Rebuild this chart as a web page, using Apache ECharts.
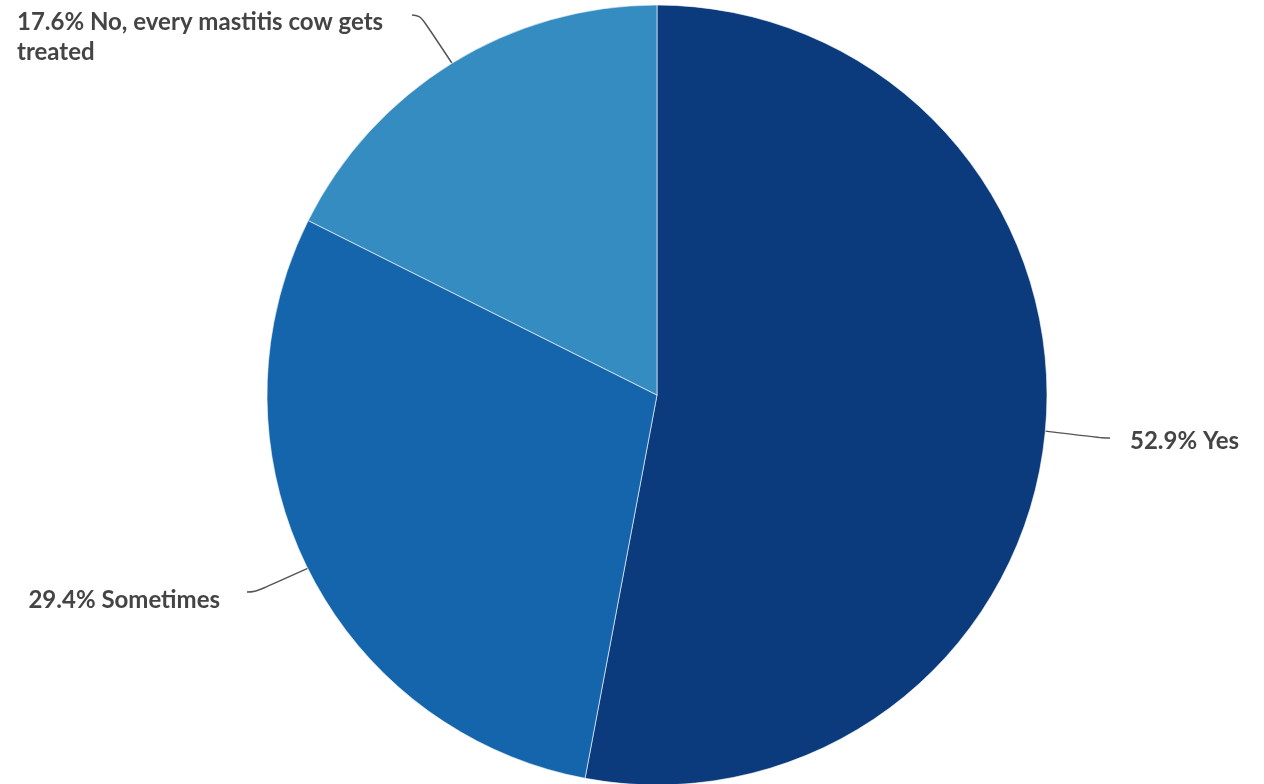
<!DOCTYPE html>
<html>
<head>
<meta charset="utf-8">
<script src="https://cdn.jsdelivr.net/npm/echarts@6/dist/echarts.min.js"></script>
<style>
  html, body { margin: 0; padding: 0; background: #fff; }
  #chart { width: 1264px; height: 784px; }
</style>
</head>
<body>
<div id="chart"></div>
<script>
// Survey answers and their shares (%)
const categories = ['Yes', 'Sometimes', 'No, every mastitis cow gets treated'];
const shares = [52.9, 29.4, 17.6];
const colors = ['#0b3b7c', '#1565ad', '#348cc1'];

// Label boxes: [x, y (box top), align, padding]; the padding leaves
// a gap between the end of the leader line and the text.
const labelBoxes = [
  { x: 1110, y: 420, align: 'left',  padding: [6, 0, 0, 20] },
  { x: 247,  y: 569, align: 'right', padding: [16, 27, 0, 0] },
  { x: 17,   y: -37, align: 'left',  padding: [44, 3, 0, 0] }
];

const chart = echarts.init(document.getElementById('chart'), null, { renderer: 'canvas' });

chart.setOption({
  animation: false,
  backgroundColor: '#ffffff',
  series: [{
    type: 'pie',
    center: [657, 395],
    radius: 390,
    startAngle: 90,
    clockwise: true,
    data: categories.map((name, i) => {
      const item = {
        name: name,
        value: shares[i],
        itemStyle: { color: colors[i] },
        label: { padding: labelBoxes[i].padding }
      };
      if (i === 2) {
        item.label.width = 392;
        item.label.overflow = 'break';
      }
      return item;
    }),
    itemStyle: { borderColor: 'rgba(255,255,255,0.6)', borderWidth: 1 },
    label: {
      show: true,
      formatter: p => p.value.toFixed(1) + '% ' + p.name,
      fontFamily: 'Lato',
      fontWeight: 'bold',
      fontSize: 24,
      lineHeight: 30,
      color: '#444'
    },
    labelLine: {
      show: true,
      length: 20,
      length2: 8,
      smooth: 0.5,
      lineStyle: { color: '#555', width: 1.5 }
    },
    labelLayout: function (params) {
      const b = labelBoxes[params.dataIndex];
      return {
        x: b.x,
        y: b.y,
        align: b.align,
        verticalAlign: 'top'
      };
    }
  }]
});
</script>
</body>
</html>
